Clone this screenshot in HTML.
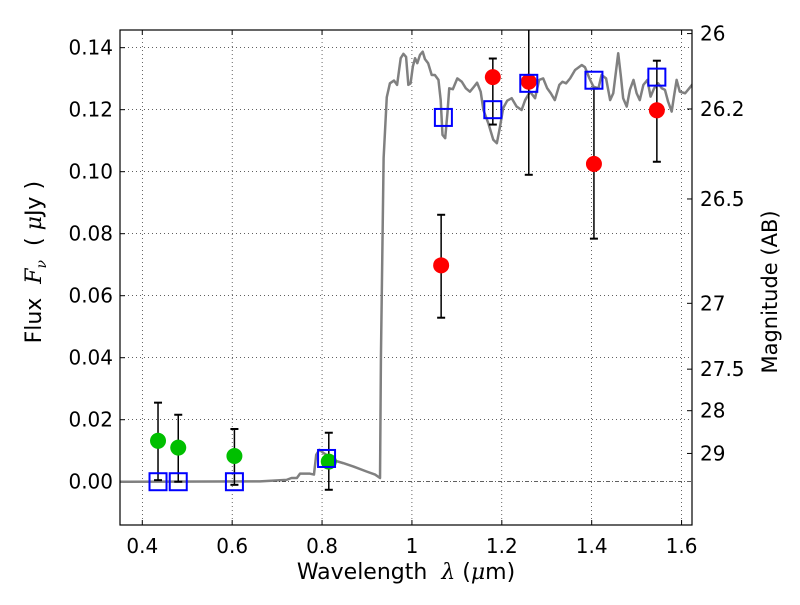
<!DOCTYPE html>
<html><head><meta charset="utf-8"><style>
body{margin:0;background:#fff;}
svg text{font-family:"DejaVu Sans","Liberation Sans",sans-serif;fill:#000;}
</style></head><body>
<svg id="chart" width="800" height="600" viewBox="0 0 800 600"></svg>
<script>
const xTicks=[0.4,0.6,0.8,1.0,1.2,1.4,1.6];
const xTickLabels=["0.4","0.6","0.8","1","1.2","1.4","1.6"];
const yTicks=[0,0.02,0.04,0.06,0.08,0.10,0.12,0.14];
const yTickLabels=["0.00","0.02","0.04","0.06","0.08","0.10","0.12","0.14"];
const magTicks=[26,26.2,26.5,27,27.5,28,29];
const magTickLabels=["26","26.2","26.5","27","27.5","28","29"];
const specX=[0.35,0.662,0.721,0.732,0.744,0.751,0.773,0.782,0.787,0.794,0.803,0.833,0.847,0.870,0.899,0.918,0.929,0.931,0.937,0.944,0.951,0.960,0.967,0.975,0.981,0.987,0.992,0.997,1.002,1.007,1.012,1.018,1.024,1.029,1.036,1.044,1.051,1.059,1.064,1.068,1.074,1.079,1.083,1.091,1.101,1.111,1.120,1.129,1.138,1.145,1.153,1.159,1.170,1.181,1.189,1.196,1.203,1.212,1.222,1.233,1.244,1.252,1.263,1.274,1.283,1.292,1.301,1.309,1.318,1.328,1.335,1.343,1.352,1.363,1.378,1.385,1.395,1.404,1.415,1.422,1.432,1.441,1.448,1.454,1.459,1.465,1.470,1.478,1.485,1.493,1.500,1.507,1.515,1.524,1.531,1.539,1.548,1.556,1.563,1.570,1.578,1.583,1.589,1.596,1.608,1.617,1.626];
const specY=[0,0.0001,0.0006,0.0012,0.0012,0.0026,0.0026,0.0023,0.0087,0.0103,0.0093,0.0066,0.006,0.0049,0.0033,0.0023,0.0012,0.04,0.1044,0.124,0.1285,0.1294,0.128,0.1366,0.138,0.137,0.128,0.1285,0.1339,0.1366,0.135,0.1377,0.1387,0.1363,0.135,0.1312,0.1312,0.1296,0.1231,0.1119,0.1108,0.1189,0.1269,0.1266,0.1301,0.129,0.1269,0.1258,0.1274,0.1287,0.1258,0.1199,0.1156,0.1103,0.1092,0.1145,0.1205,0.1229,0.1237,0.121,0.1199,0.1231,0.1258,0.1237,0.1296,0.1301,0.1269,0.1253,0.1231,0.128,0.129,0.1285,0.1301,0.1328,0.1344,0.1337,0.1301,0.1274,0.1269,0.1312,0.1301,0.1231,0.1253,0.1323,0.1382,0.1307,0.1237,0.121,0.1264,0.1296,0.1253,0.1231,0.128,0.1296,0.1242,0.1269,0.1285,0.1269,0.1264,0.1226,0.1194,0.1242,0.1296,0.1258,0.1253,0.1269,0.1285];
const greenX=[0.435,0.48,0.605,0.815];
const greenY=[0.0132,0.011,0.0083,0.0065];
const greenHi=[0.0255,0.0216,0.017,0.0158];
const greenLo=[0.0005,0,-0.001,-0.0026];
const redX=[1.065,1.18,1.26,1.405,1.545];
const redY=[0.0698,0.1305,0.129,0.1025,0.1198];
const redHi=[0.0861,0.1365,0.16,0.1268,0.1358];
const redLo=[0.0529,0.1152,0.099,0.0784,0.1032];
const blueX=[0.435,0.48,0.605,0.81,1.07,1.18,1.26,1.405,1.545];
const blueY=[0,0,0,0.0075,0.1175,0.12,0.1285,0.1295,0.1305];

const L=120,R=692,T=30,B=525,x0=0.3504,x1=1.6232,y0=-0.01396,y1=0.1457;
const sx=v=>L+(v-x0)/(x1-x0)*(R-L);
const sy=v=>B-(v-y0)/(y1-y0)*(B-T);
const svg=document.getElementById('chart');
const NS='http://www.w3.org/2000/svg';
function mk(tag,attrs,parent){const e=document.createElementNS(NS,tag);for(const k in attrs)e.setAttribute(k,attrs[k]);(parent||svg).appendChild(e);return e;}
const clip=mk('clipPath',{id:'pc'});mk('rect',{x:L,y:T,width:R-L,height:B-T},clip);
xTicks.forEach((v,i)=>{const g=mk('line',{x1:sx(v),x2:sx(v),y1:T,y2:B,stroke:'#000','stroke-width':0.6,'stroke-dasharray':'1,3'});


mk('line',{x1:sx(v),x2:sx(v),y1:B,y2:B-5,stroke:'#000'});mk('line',{x1:sx(v),x2:sx(v),y1:T,y2:T+5,stroke:'#000'});
const t=mk('text',{x:sx(v),y:B+28,'font-size':20,'text-anchor':'middle'});t.textContent=xTickLabels[i];

});
yTicks.forEach((v,i)=>{const g=mk('line',{x1:L,x2:R,y1:sy(v),y2:sy(v),stroke:'#000','stroke-width':0.6,'stroke-dasharray':v===0?'4,2,1,2':'1,3'});


mk('line',{x1:L,x2:L+5,y1:sy(v),y2:sy(v),stroke:'#000'});
const t=mk('text',{x:L-7,y:sy(v)+7,'font-size':20,'text-anchor':'end'});t.textContent=yTickLabels[i];

});
magTicks.forEach((m,i)=>{const f=Math.pow(10,(23.9-m)/2.5);const y=sy(f);
mk('line',{x1:R,x2:R-5,y1:y,y2:y,stroke:'#000'});
const t=mk('text',{x:R+8,y:y+7,'font-size':20});t.textContent=magTickLabels[i];

});
const sp=mk('polyline',{points:specX.map((v,i)=>sx(v)+','+sy(specY[i])).join(' '),fill:'none',stroke:'#808080','stroke-width':2.5,'stroke-linejoin':'round','clip-path':'url(#pc)'});


function errs(xs,ys,hi,lo,color,name){xs.forEach((v,i)=>{const x=sx(v);const top=Math.max(sy(hi[i]),T);
mk('line',{x1:x,x2:x,y1:top,y2:sy(lo[i]),stroke:'#000','stroke-width':1.5,'clip-path':'url(#pc)'});
if(sy(hi[i])>T)mk('line',{x1:x-4,x2:x+4,y1:sy(hi[i]),y2:sy(hi[i]),stroke:'#000','stroke-width':2});
mk('line',{x1:x-4,x2:x+4,y1:sy(lo[i]),y2:sy(lo[i]),stroke:'#000','stroke-width':2});
const c=mk('circle',{cx:x,cy:sy(ys[i]),r:8,fill:color});

});}
errs(greenX,greenY,greenHi,greenLo,'#00bf00','green-photometry-point');
errs(redX,redY,redHi,redLo,'#ff0000','red-photometry-point');
blueX.forEach((v,i)=>{const r=mk('rect',{x:sx(v)-8.5,y:sy(blueY[i])-8.5,width:17,height:17,fill:'none',stroke:'#0000ff','stroke-width':2});

});
const fr=mk('rect',{x:L,y:T,width:R-L,height:B-T,fill:'none',stroke:'#000','stroke-width':1.2});


</script>
<div style="position:absolute;left:0;top:0;width:800px;height:600px;pointer-events:none">
<div style="position:absolute;left:0;width:812px;top:560px;text-align:center;font:22px 'DejaVu Sans','Liberation Sans',sans-serif">Wavelength &nbsp;<i style="font-family:'DejaVu Serif',serif">λ</i> (<i style="font-family:'DejaVu Serif',serif">μ</i>m)</div>
<div style="position:absolute;left:-64px;top:248px;width:200px;text-align:center;transform:rotate(-90deg);font:22px 'DejaVu Sans','Liberation Sans',sans-serif;white-space:nowrap">Flux &nbsp;<i style="font-family:'DejaVu Serif',serif">F<sub style="font-size:14px">ν</sub></i> &nbsp;( <i style="font-family:'DejaVu Serif',serif">μ</i>Jy )</div>
<div style="position:absolute;left:670px;top:280px;width:200px;text-align:center;transform:rotate(-90deg);font:21px 'DejaVu Sans','Liberation Sans',sans-serif;white-space:nowrap">Magnitude (AB)</div>
</div>
</body></html>
